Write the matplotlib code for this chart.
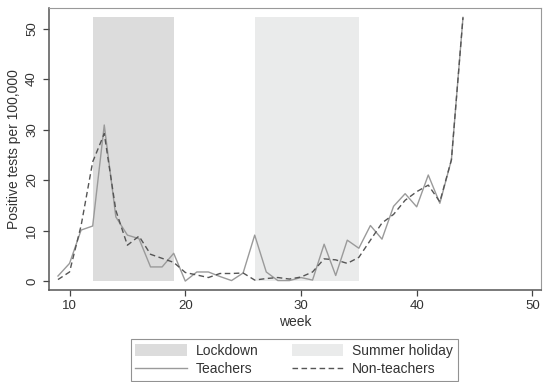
import matplotlib.pyplot as plt
from matplotlib.patches import Patch
from matplotlib.lines import Line2D

plt.rcParams['font.family'] = ['Liberation Sans', 'DejaVu Sans']

weeks = list(range(9, 45))
teachers = [1.0, 3.5, 10.1, 10.9, 30.9, 12.7, 9.1, 8.4, 2.8, 2.8, 5.5,
            0.0, 1.8, 1.8, 0.9, 0.1, 1.6, 9.1, 1.8, 0.1, 0.1, 0.7, 0.2,
            7.3, 1.1, 8.1, 6.5, 11.0, 8.3, 14.8, 17.3, 14.7, 21.0, 15.4,
            24.0, 52.2]
non_teachers = [0.3, 1.8, 11.0, 23.6, 29.2, 14.0, 7.1, 8.9, 5.3, 4.5, 3.7,
                1.7, 1.2, 0.7, 1.5, 1.5, 1.6, 0.2, 0.5, 0.7, 0.4, 0.8, 1.8,
                4.4, 4.2, 3.5, 4.7, 8.1, 11.5, 13.2, 16.0, 17.7, 19.0, 15.7,
                24.0, 52.2]

lockdown = (12, 19)
summer = (26, 35)
shade_top = 52.3

fig = plt.figure(figsize=(5.43, 3.82), dpi=100)
ax = fig.add_axes([0.0895, 0.242, 0.907, 0.737])

# shaded periods behind the two series
ax.fill_between(lockdown, 0, shade_top, color='#dcdcdc', lw=0, zorder=1)
ax.fill_between(summer, 0, shade_top, color='#eaebeb', lw=0, zorder=1)
ax.plot(weeks, teachers, color='#9a9a9a', lw=1.0, zorder=3)
ax.plot(weeks, non_teachers, color='#555555', lw=1.0, ls=(0, (4, 2.5)), zorder=4)

ax.set_xlim(8.19, 50.75)
ax.set_ylim(-1.68, 54.06)
ax.set_xticks([10, 20, 30, 40, 50])
ax.set_yticks([0, 10, 20, 30, 40, 50])
ax.tick_params(axis='both', labelsize=9.5, color='#444444', length=4,
               width=0.9, labelcolor='#333333')
for lab in ax.get_yticklabels():
    lab.set_rotation(90)
    lab.set_va('center')
ax.set_xlabel('week', fontsize=10, color='#333333', labelpad=2)
ax.set_ylabel('Positive tests per 100,000', fontsize=10, color='#333333', labelpad=4)

for side in ['left', 'bottom']:
    ax.spines[side].set_color('#555555')
    ax.spines[side].set_linewidth(1.1)
for side in ['top', 'right']:
    ax.spines[side].set_color('#999999')
    ax.spines[side].set_linewidth(0.8)

# legend order gives rows: Lockdown / Summer holiday, Teachers / Non-teachers
handles = [Patch(facecolor='#dcdcdc', edgecolor='none', label='Lockdown'),
           Line2D([], [], color='#9a9a9a', lw=1.0, label='Teachers'),
           Patch(facecolor='#eaebeb', edgecolor='none', label='Summer holiday'),
           Line2D([], [], color='#555555', lw=1.0, ls=(0, (4, 2.5)), label='Non-teachers')]
leg = fig.legend(handles=handles, ncol=2, loc='lower center',
                 bbox_to_anchor=(0.542, 0.002), fontsize=10, frameon=True,
                 fancybox=False, edgecolor='#777777', handlelength=3.7,
                 handleheight=1.0, handletextpad=0.65, columnspacing=2.4,
                 labelspacing=0.35, borderpad=0.35, borderaxespad=0)
leg.get_frame().set_linewidth(0.8)
for t in leg.get_texts():
    t.set_color('#333333')

fig.savefig('out.png', dpi=100)
